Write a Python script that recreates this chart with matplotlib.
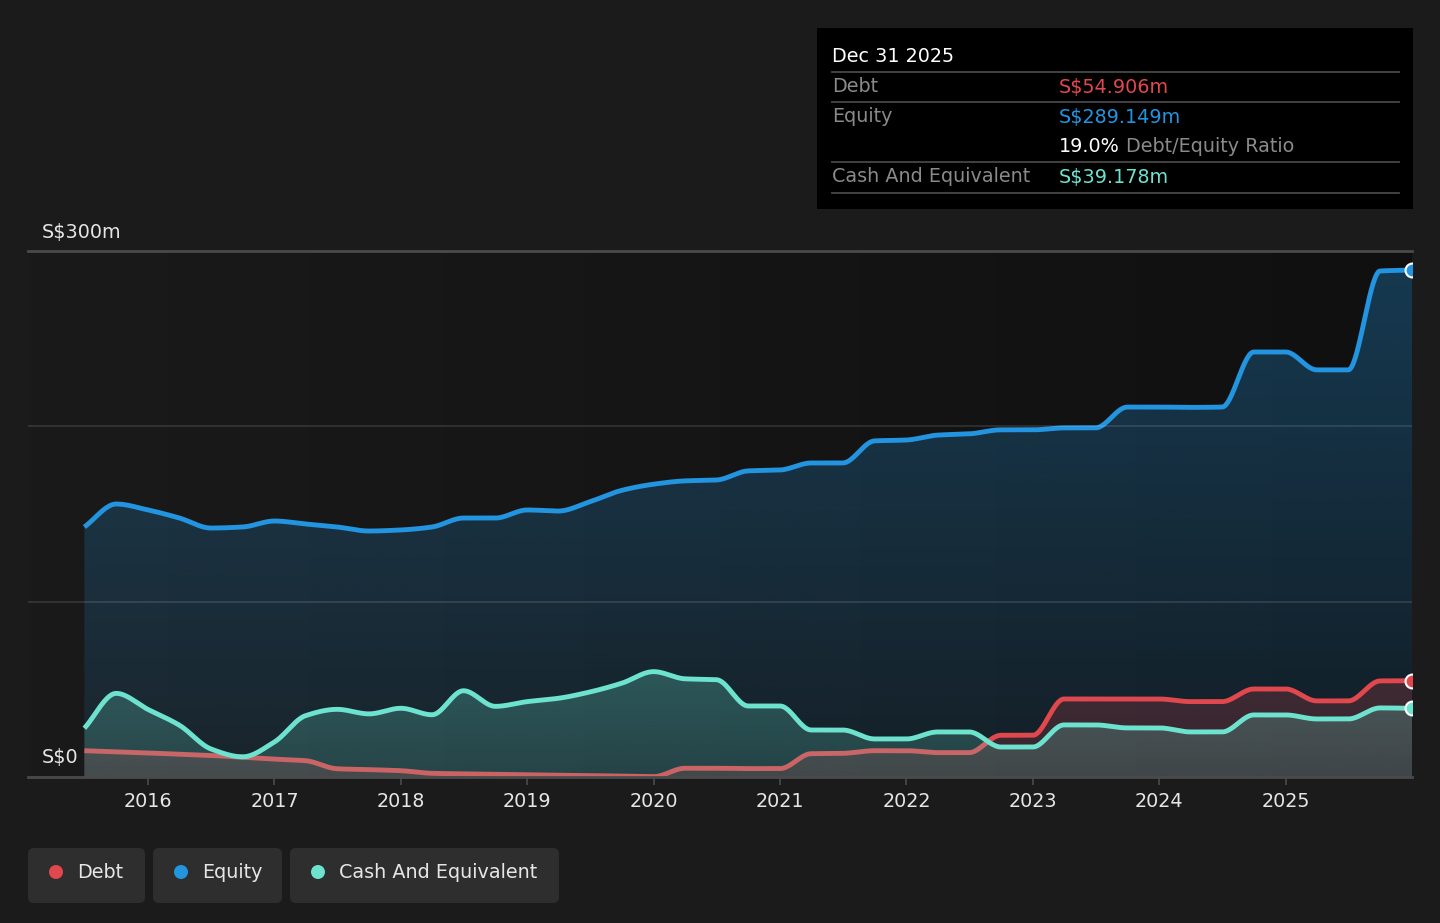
import numpy as np
import pandas as pd
import matplotlib
matplotlib.use("Agg")
import matplotlib.pyplot as plt
from matplotlib.colors import to_rgb
from matplotlib.patches import Rectangle, FancyBboxPatch, Circle

plt.rcParams['font.family'] = ['DejaVu Sans']

# ---------------- data (S$ millions, quarter ends) ----------------
dates = ["2015-06-30", "2015-09-30", "2015-12-31", "2016-03-31", "2016-06-30", "2016-09-30",
         "2016-12-31", "2017-03-31", "2017-06-30", "2017-09-30", "2017-12-31", "2018-03-31",
         "2018-06-30", "2018-09-30", "2018-12-31", "2019-03-31", "2019-06-30", "2019-09-30",
         "2019-12-31", "2020-03-31", "2020-06-30", "2020-09-30", "2020-12-31", "2021-03-31",
         "2021-06-30", "2021-09-30", "2021-12-31", "2022-03-31", "2022-06-30", "2022-09-30",
         "2022-12-31", "2023-03-31", "2023-06-30", "2023-09-30", "2023-12-31", "2024-03-31",
         "2024-06-30", "2024-09-30", "2024-12-31", "2025-03-31", "2025-06-30", "2025-09-30",
         "2025-12-31"]

equity = [142.6, 155.7, 152.3, 147.7, 142.0, 142.6, 146.0, 144.3, 142.6, 140.3, 140.9, 142.6,
          147.7, 147.7, 152.3, 151.7, 157.0, 163.5, 167.0, 168.9, 169.4, 174.6, 175.1, 179.1,
          179.1, 191.7, 192.2, 195.0, 195.7, 198.0, 198.0, 199.1, 199.1, 211.0, 211.0, 210.8,
          211.0, 242.4, 242.4, 232.2, 232.2, 288.6, 289.149]

debt = [15.0, 14.3, 13.7, 13.0, 12.3, 11.2, 10.2, 9.3, 4.7, 4.2, 3.6, 2.1,
        1.8, 1.6, 1.3, 1.0, 0.8, 0.5, 0.2, 5.0, 5.0, 4.8, 4.8, 13.3,
        13.5, 15.0, 15.0, 13.9, 13.9, 23.8, 23.8, 44.5, 44.5, 44.5, 44.5, 43.0,
        43.0, 50.2, 50.2, 43.4, 43.4, 54.8, 54.906]

cash = [27.8, 47.7, 38.5, 29.5, 16.0, 11.5, 20.0, 35.0, 38.6, 36.0, 39.2, 35.5,
        49.2, 40.3, 43.0, 44.9, 48.5, 53.5, 60.1, 56.0, 55.5, 40.5, 40.5, 26.8,
        26.8, 21.7, 21.7, 25.7, 25.7, 17.1, 17.1, 29.7, 29.7, 28.0, 28.0, 25.7,
        25.7, 35.4, 35.4, 33.1, 33.1, 39.4, 39.178]

year_ticks = [2016, 2017, 2018, 2019, 2020, 2021, 2022, 2023, 2024, 2025]
legend_labels = ["Debt", "Equity", "Cash And Equivalent"]

C_DEBT = "#e0484e"
C_EQ = "#2394df"
C_CASH = "#6de3cf"


def dec_year(s):
    d = pd.Timestamp(s)
    n = 366 if d.is_leap_year else 365
    return d.year + d.dayofyear / n


def pchip(x, y, xs):
    x = np.asarray(x, float); y = np.asarray(y, float)
    h = np.diff(x); d = np.diff(y) / h
    n = len(x)
    m = np.zeros(n)
    for k in range(1, n - 1):
        if d[k - 1] * d[k] <= 0:
            m[k] = 0.0
        else:
            w1 = 2 * h[k] + h[k - 1]
            w2 = h[k] + 2 * h[k - 1]
            m[k] = (w1 + w2) / (w1 / d[k - 1] + w2 / d[k])
    m[0] = d[0]; m[-1] = d[-1]
    idx = np.clip(np.searchsorted(x, xs) - 1, 0, n - 2)
    t = (xs - x[idx]) / h[idx]
    h00 = 2 * t**3 - 3 * t**2 + 1
    h10 = t**3 - 2 * t**2 + t
    h01 = -2 * t**3 + 3 * t**2
    h11 = t**3 - t**2
    return h00 * y[idx] + h10 * h[idx] * m[idx] + h01 * y[idx + 1] + h11 * h[idx] * m[idx + 1]


xq = np.array([dec_year(s) for s in dates])
xs = np.linspace(xq[0], xq[-1], 1500)
eq_s = pchip(xq, equity, xs)
debt_s = pchip(xq, debt, xs)
cash_s = pchip(xq, cash, xs)

W, H = 1440, 923
fig = plt.figure(figsize=(W / 100, H / 100), dpi=100)
fig.patch.set_facecolor("#1b1b1b")

ax = fig.add_axes([28 / W, 1 - 777 / H, (1412 - 28) / W, (777 - 251) / H])
ax.set_facecolor("none")
for sp in ax.spines.values():
    sp.set_visible(False)

# background horizontal gradient
bg = np.zeros((1, 256, 3))
c0 = np.array([26, 26, 26]) / 255
c1 = np.array([16, 16, 16]) / 255
for i in range(3):
    bg[0, :, i] = np.linspace(c0[i], c1[i], 256)
ax.imshow(bg, extent=[0, 1, 0, 1], transform=ax.transAxes, aspect='auto', zorder=0)


def grad_fill(x, y, color, a_top, a_bot, y_top, zorder):
    poly = ax.fill_between(x, 0, y, facecolor='none', edgecolor='none', zorder=zorder)
    path = poly.get_paths()[0]
    rgb = to_rgb(color)
    img = np.zeros((256, 1, 4))
    img[:, 0, 0], img[:, 0, 1], img[:, 0, 2] = rgb
    img[:, 0, 3] = np.linspace(a_top, a_bot, 256)
    im = ax.imshow(img, extent=[x.min(), x.max(), 0, y_top], aspect='auto',
                   origin='upper', zorder=zorder, interpolation='bilinear')
    im.set_clip_path(path, transform=ax.transData)


LW = 3.5
grad_fill(xs, eq_s, C_EQ, 0.32, 0.10, 300, 1)
grad_fill(xs, debt_s, C_DEBT, 0.22, 0.18, 60, 2)
ax.plot(xs, debt_s, color=C_DEBT, lw=LW, zorder=3, solid_capstyle='butt')
grad_fill(xs, cash_s, C_CASH, 0.26, 0.18, 60, 4)
ax.plot(xs, cash_s, color=C_CASH, lw=LW, zorder=5, solid_capstyle='butt')
ax.plot(xs, eq_s, color=C_EQ, lw=LW, zorder=6, solid_capstyle='butt')

for val, col in [(equity[-1], C_EQ), (debt[-1], C_DEBT), (cash[-1], C_CASH)]:
    ax.plot([xq[-1]], [val], 'o', ms=10, mfc=col, mec='white', mew=1.5, zorder=8)

# gridlines
for gy, a in [(100, 0.13), (200, 0.13)]:
    ax.axhline(gy, color='white', alpha=a, lw=1.2, zorder=7)
ax.axhline(300, color='#4a4a4a', lw=2, zorder=7, clip_on=False)
ax.axhline(0, color='#4a4a4a', lw=2, zorder=7, clip_on=False)

ax.set_xlim(2015.05, 2026.0)
ax.set_ylim(0, 300)
ax.set_yticks([])
ax.set_xticks(year_ticks)
ax.set_xticklabels([str(y) for y in year_ticks])
fs = 13.8
ax.tick_params(axis='x', colors='#4a4a4a', length=6, width=1.2, labelcolor='#e6e6e6',
               labelsize=fs, pad=5)

ytr = ax.get_yaxis_transform()
ax.text(14 / 1384, 310.5, "S$300m", transform=ytr, color='#e6e6e6', fontsize=fs,
        va='center', ha='left', clip_on=False)
ax.text(14 / 1384, 11.4, "S$0", transform=ytr, color='#e6e6e6', fontsize=fs,
        va='center', ha='left', zorder=9)

# overlay axes in pixel coordinates
ov = fig.add_axes([0, 0, 1, 1])
ov.set_xlim(0, W)
ov.set_ylim(H, 0)
ov.axis('off')

# tooltip
ov.add_patch(Rectangle((817, 28), 596, 181, facecolor='black', edgecolor='none'))
for ly in [72, 102, 162, 193]:
    ov.plot([832, 1399], [ly, ly], color='#474747', lw=1.3)
ov.text(832, 56, "Dec 31 2025", color='white', fontsize=fs, va='center')
ov.text(832, 87, "Debt", color='#8a8a8a', fontsize=fs, va='center')
ov.text(1059, 87, "S$54.906m", color=C_DEBT, fontsize=fs, va='center')
ov.text(832, 117, "Equity", color='#8a8a8a', fontsize=fs, va='center')
ov.text(1059, 117, "S$289.149m", color=C_EQ, fontsize=fs, va='center')
ov.text(1059, 147, "19.0%", color='white', fontsize=fs, va='center')
ov.text(1126, 147, "Debt/Equity Ratio", color='#8a8a8a', fontsize=fs, va='center')
ov.text(832, 177, "Cash And Equivalent", color='#8a8a8a', fontsize=fs, va='center')
ov.text(1059, 177, "S$39.178m", color=C_CASH, fontsize=fs, va='center')

# legend
boxes = [(28, 145), (153, 282), (290, 559)]
for (x0, x1), lab, col in zip(boxes, legend_labels, [C_DEBT, C_EQ, C_CASH]):
    ov.add_patch(FancyBboxPatch((x0 + 6, 848 + 6), x1 - x0 - 12, 55 - 12,
                                boxstyle="round,pad=6,rounding_size=6",
                                facecolor='#2e2e2e', edgecolor='none'))
    ov.add_patch(Circle((x0 + 28, 872), 7, facecolor=col, edgecolor='none'))
    ov.text(x0 + 49, 873, lab, color='#e6e6e6', fontsize=fs, va='center')

fig.savefig("out.png", dpi=100, facecolor=fig.get_facecolor())
